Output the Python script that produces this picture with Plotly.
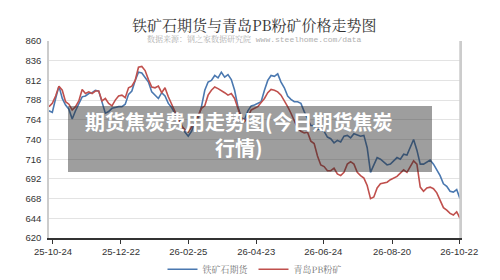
import plotly.graph_objects as go

# trading-day index (every 2nd trading day sampled)
day_index = list(range(0, 250, 2))

iron_ore_futures = [
    775, 773, 790, 805, 790, 782, 777, 765, 775, 784,
    792, 793, 796, 797, 800, 799, 786, 772, 774, 778,
    779, 780, 780, 783, 795, 799, 812, 822, 821, 816,
    810, 798, 794, 790, 797, 793, 784, 779, 772, 767,
    758, 749, 744, 750, 761, 766, 780, 800, 810, 812,
    818, 815, 822, 816, 819, 813, 800, 780, 767, 764,
    775, 781, 782, 784, 786, 800, 812, 818, 817, 820,
    810, 803, 793, 789, 786, 786, 784, 774, 766, 757,
    757, 752, 753, 750, 743, 741, 736, 739, 737, 744,
    745, 742, 747, 745, 744, 745, 730, 700, 708, 718,
    716, 713, 709, 710, 714, 718, 716, 722, 721, 730,
    740, 727, 710, 710, 712, 715, 710, 703, 696, 686,
    683, 677, 676, 679, 668,
]

qingdao_pb_fines = [
    780, 784, 793, 805, 800, 786, 783, 776, 780, 787,
    801, 796, 798, 796, 799, 799, 787, 790, 784, 781,
    788, 793, 794, 791, 803, 805, 812, 828, 829, 824,
    813, 804, 803, 805, 797, 803, 792, 783, 775, 767,
    756, 752, 749, 755, 760, 769, 778, 781, 794, 800,
    804, 802, 800, 797, 794, 796, 790, 778, 766, 762,
    767, 776, 778, 780, 785, 790, 797, 801, 800, 798,
    794, 786, 780, 772, 762, 754, 750, 748, 749, 738,
    735, 720, 709, 707, 702, 702, 705, 698, 696, 700,
    710, 713, 710, 700, 696, 693, 684, 668, 670, 681,
    686, 687, 688, 691, 693, 695, 699, 703, 700, 707,
    714, 710, 682, 677, 681, 682, 680, 675, 665, 657,
    654, 650, 648, 652, 644,
]

tick_labels = ["25-10-24", "25-12-22", "26-02-25", "26-04-23", "26-06-24", "26-08-20", "26-10-22"]
tick_index = [2.4, 43.4, 84, 125, 165.5, 207, 247.5]

series_names = ["铁矿石期货", "青岛PB粉矿"]
series_colors = ["#4a78b0", "#c0504d"]

fig = go.Figure()
for name, vals, col in zip(series_names, [iron_ore_futures, qingdao_pb_fines], series_colors):
    fig.add_trace(go.Scatter(
        x=day_index, y=vals, mode="lines", name=name,
        line=dict(color=col, width=1.6),
        hoverinfo="skip",
    ))

fig.update_layout(
    width=500, height=280,
    margin=dict(l=49, r=40, t=41, b=42, autoexpand=False),
    paper_bgcolor="white", plot_bgcolor="white",
    font=dict(family="Liberation Sans, Arial, sans-serif", size=10, color="#333"),
    showlegend=True,
    legend=dict(
        orientation="h", x=0.5, xanchor="center", y=-0.085, yanchor="top",
        font=dict(family="Noto Serif CJK SC, Noto Sans CJK SC", size=9, color="#777"),
        itemwidth=30, tracegroupgap=0, bgcolor="rgba(0,0,0,0)",
    ),
    xaxis=dict(
        range=[0, 248], tickmode="array", tickvals=tick_index, ticktext=tick_labels,
        showgrid=False, zeroline=False,
        showline=True, linecolor="#333", linewidth=1.5,
        ticks="outside", ticklen=4, tickcolor="#333", tickwidth=1,
        tickfont=dict(size=9.5, color="#333"),
        mirror=False,
    ),
    yaxis=dict(
        range=[620, 860], tick0=620, dtick=24,
        showgrid=True, gridcolor="#e3e3e3", gridwidth=1,
        zeroline=False, showline=True, linecolor="#cccccc", linewidth=1.5,
        mirror=True, ticks="", tickfont=dict(size=9.5, color="#333"),
        ticklabelstandoff=4,
    ),
)

# frame right edge in light gray
fig.add_shape(type="line", xref="paper", yref="paper", x0=1, x1=1, y0=0, y1=1,
              line=dict(color="#cccccc", width=1.5))

# title & subtitle
fig.add_annotation(text="铁矿石期货与青岛PB粉矿价格走势图", xref="paper", yref="paper",
                   x=0.5, y=1, yshift=29, showarrow=False,
                   font=dict(family="Noto Serif CJK SC, Noto Sans CJK SC", size=15, color="#333"))
fig.add_annotation(text="数据来源：钢之家数据研究院 www.steelhome.com/data", xref="paper", yref="paper",
                   x=0.5, y=1, yshift=9, showarrow=False,
                   font=dict(family="Liberation Mono, Noto Serif CJK SC", size=8, color="#b0b0b0"))

# overlay banner
fig.add_shape(type="rect", xref="paper", yref="paper",
              x0=(68 - 49) / 411, x1=(432 - 49) / 411,
              y0=(238 - 172) / 197, y1=(238 - 106) / 197,
              fillcolor="rgba(40,40,40,0.45)", line=dict(width=0), layer="above")
fig.add_annotation(text="<b>期货焦炭费用走势图(今日期货焦炭</b><br><b>行情)</b>",
                   xref="paper", yref="paper",
                   x=(239 - 49) / 411, y=(238 - 134) / 197, showarrow=False,
                   align="center",
                   font=dict(family="Noto Sans CJK SC", size=20, color="white"))

fig.write_html("out.html")
